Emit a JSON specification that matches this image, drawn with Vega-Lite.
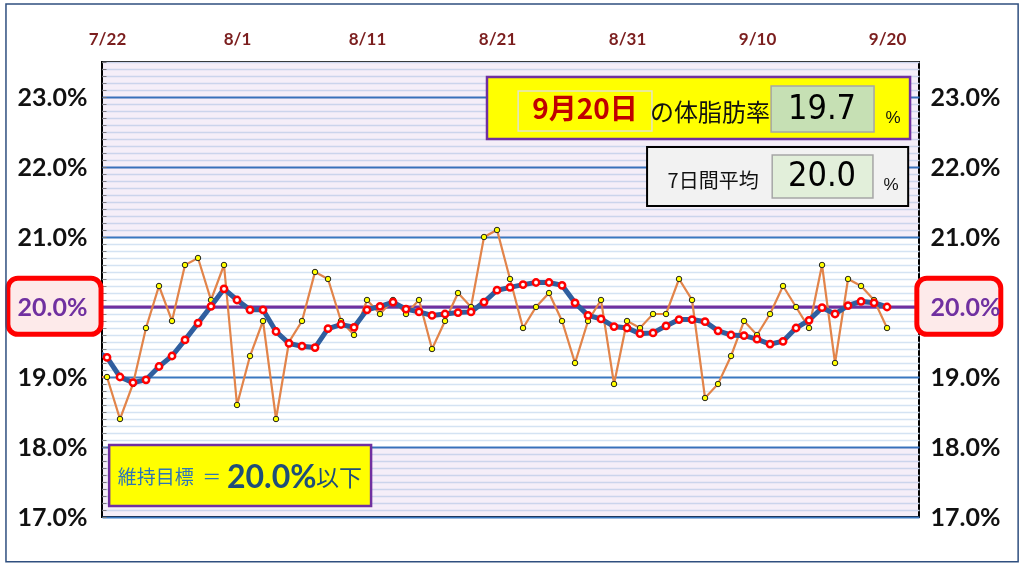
{
  "$schema": "https://vega.github.io/schema/vega-lite/v6.json",
  "description": "体脂肪率の推移 7/22-9/20 と7日間平均",
  "width": 817,
  "height": 455,
  "autosize": {"type": "none"},
  "padding": {"left": 102, "top": 62, "right": 105, "bottom": 52},
  "background": "#ffffff",
  "config": {
    "view": {"stroke": "#000000", "strokeWidth": 2, "fill": "#ffffff"},
    "axis": {"labelFont": "Lato", "labelFontWeight": "bold"}
  },
  "data": {
    "values": [
      {"date": "2023-07-21", "daily": 19.0, "avg": 19.38},
      {"date": "2023-07-22", "daily": 19.0, "avg": 19.28},
      {"date": "2023-07-23", "daily": 18.4, "avg": 19.0},
      {"date": "2023-07-24", "daily": 18.9, "avg": 18.92},
      {"date": "2023-07-25", "daily": 19.7, "avg": 18.96},
      {"date": "2023-07-26", "daily": 20.3, "avg": 19.15},
      {"date": "2023-07-27", "daily": 19.8, "avg": 19.30},
      {"date": "2023-07-28", "daily": 20.6, "avg": 19.53},
      {"date": "2023-07-29", "daily": 20.7, "avg": 19.77},
      {"date": "2023-07-30", "daily": 20.1, "avg": 20.01},
      {"date": "2023-07-31", "daily": 20.6, "avg": 20.26},
      {"date": "2023-08-01", "daily": 18.6, "avg": 20.10},
      {"date": "2023-08-02", "daily": 19.3, "avg": 19.96},
      {"date": "2023-08-03", "daily": 19.8, "avg": 19.96},
      {"date": "2023-08-04", "daily": 18.4, "avg": 19.65},
      {"date": "2023-08-05", "daily": 19.5, "avg": 19.48},
      {"date": "2023-08-06", "daily": 19.8, "avg": 19.44},
      {"date": "2023-08-07", "daily": 20.5, "avg": 19.42},
      {"date": "2023-08-08", "daily": 20.4, "avg": 19.69},
      {"date": "2023-08-09", "daily": 19.8, "avg": 19.75},
      {"date": "2023-08-10", "daily": 19.6, "avg": 19.71},
      {"date": "2023-08-11", "daily": 20.1, "avg": 19.96},
      {"date": "2023-08-12", "daily": 19.9, "avg": 20.01},
      {"date": "2023-08-13", "daily": 20.1, "avg": 20.07},
      {"date": "2023-08-14", "daily": 19.9, "avg": 19.97},
      {"date": "2023-08-15", "daily": 20.1, "avg": 19.93},
      {"date": "2023-08-16", "daily": 19.4, "avg": 19.88},
      {"date": "2023-08-17", "daily": 19.8, "avg": 19.90},
      {"date": "2023-08-18", "daily": 20.2, "avg": 19.92},
      {"date": "2023-08-19", "daily": 20.0, "avg": 19.93},
      {"date": "2023-08-20", "daily": 21.0, "avg": 20.07},
      {"date": "2023-08-21", "daily": 21.1, "avg": 20.24},
      {"date": "2023-08-22", "daily": 20.4, "avg": 20.28},
      {"date": "2023-08-23", "daily": 19.7, "avg": 20.32},
      {"date": "2023-08-24", "daily": 20.0, "avg": 20.35},
      {"date": "2023-08-25", "daily": 20.2, "avg": 20.35},
      {"date": "2023-08-26", "daily": 19.8, "avg": 20.31},
      {"date": "2023-08-27", "daily": 19.2, "avg": 20.06},
      {"date": "2023-08-28", "daily": 19.8, "avg": 19.88},
      {"date": "2023-08-29", "daily": 20.1, "avg": 19.83},
      {"date": "2023-08-30", "daily": 18.9, "avg": 19.72},
      {"date": "2023-08-31", "daily": 19.8, "avg": 19.70},
      {"date": "2023-09-01", "daily": 19.7, "avg": 19.62},
      {"date": "2023-09-02", "daily": 19.9, "avg": 19.63},
      {"date": "2023-09-03", "daily": 19.9, "avg": 19.73},
      {"date": "2023-09-04", "daily": 20.4, "avg": 19.82},
      {"date": "2023-09-05", "daily": 20.1, "avg": 19.82},
      {"date": "2023-09-06", "daily": 18.7, "avg": 19.79},
      {"date": "2023-09-07", "daily": 18.9, "avg": 19.66},
      {"date": "2023-09-08", "daily": 19.3, "avg": 19.60},
      {"date": "2023-09-09", "daily": 19.8, "avg": 19.59},
      {"date": "2023-09-10", "daily": 19.6, "avg": 19.54},
      {"date": "2023-09-11", "daily": 19.9, "avg": 19.47},
      {"date": "2023-09-12", "daily": 20.3, "avg": 19.51},
      {"date": "2023-09-13", "daily": 20.0, "avg": 19.70},
      {"date": "2023-09-14", "daily": 19.7, "avg": 19.81},
      {"date": "2023-09-15", "daily": 20.6, "avg": 19.99},
      {"date": "2023-09-16", "daily": 19.2, "avg": 19.90},
      {"date": "2023-09-17", "daily": 20.4, "avg": 20.02},
      {"date": "2023-09-18", "daily": 20.3, "avg": 20.08},
      {"date": "2023-09-19", "daily": 20.1, "avg": 20.06},
      {"date": "2023-09-20", "daily": 19.7, "avg": 20.00}
    ]
  },
  "resolve": {"axis": {"y": "independent"}},
  "layer": [
    {
      "data": {"values": [{}]},
      "layer": [
        {
          "mark": {"type": "rect", "fill": "#f5eef8", "blend": "multiply"},
          "encoding": {
            "y": {
              "datum": 21,
              "type": "quantitative",
              "scale": {"domain": [17, 23.5], "nice": false, "zero": false},
              "axis": {
                "orient": "left",
                "title": null,
                "labels": false,
                "domain": false,
                "ticks": true,
                "tickSize": -4,
                "tickColor": "#808080",
                "tickCount": 65,
                "grid": true,
                "gridColor": {
                  "condition": {"test": "abs(datum.value - round(datum.value)) < 0.001", "value": "#3a78c0"},
                  "value": "#d4e3f3"
                },
                "gridWidth": {
                  "condition": {"test": "abs(datum.value - round(datum.value)) < 0.001", "value": 1.8},
                  "value": 1.5
                }
              }
            },
            "y2": {"datum": 23.5}
          }
        },
        {
          "mark": {"type": "rect", "fill": "#f5eef8", "blend": "multiply"},
          "encoding": {
            "y": {"datum": 17, "type": "quantitative"},
            "y2": {"datum": 18}
          }
        },
        {
          "mark": {"type": "rule", "color": "#7030a0", "strokeWidth": 3},
          "encoding": {"y": {"datum": 20, "type": "quantitative"}}
        }
      ]
    },
    {
      "encoding": {
        "x": {
          "field": "date",
          "type": "temporal",
          "scale": {
            "type": "utc",
            "domain": [
              {"year": 2023, "month": 7, "date": 21, "hours": 14, "minutes": 46, "utc": true},
              {"year": 2023, "month": 9, "date": 22, "hours": 11, "utc": true}
            ]
          },
          "axis": {
            "orient": "top",
            "title": null,
            "labelExpr": "utcFormat(datum.value, '%-m/%-d')",
            "values": [
              {"year": 2023, "month": 7, "date": 22, "utc": true},
              {"year": 2023, "month": 8, "date": 1, "utc": true},
              {"year": 2023, "month": 8, "date": 11, "utc": true},
              {"year": 2023, "month": 8, "date": 21, "utc": true},
              {"year": 2023, "month": 8, "date": 31, "utc": true},
              {"year": 2023, "month": 9, "date": 10, "utc": true},
              {"year": 2023, "month": 9, "date": 20, "utc": true}
            ],
            "grid": false,
            "ticks": false,
            "domain": false,
            "labelPadding": 14,
            "labelFontSize": 17,
            "labelColor": "#7b1e1e"
          }
        }
      },
      "layer": [
        {
          "mark": {"type": "line", "color": "#e2844a", "strokeWidth": 2.2, "clip": true},
          "encoding": {
            "y": {
              "field": "daily",
              "type": "quantitative",
              "title": null,
              "scale": {"domain": [17, 23.5], "nice": false, "zero": false},
              "axis": {
                "orient": "left",
                "title": null,
                "values": [17, 18, 19, 20, 21, 22, 23],
                "labelExpr": "format(datum.value, '.1f') + '%'",
                "grid": false,
                "ticks": false,
                "domain": false,
                "zindex": 1,
                "labelPadding": 15,
                "labelFontSize": 25,
                "labelColor": {"condition": {"test": "datum.value == 20", "value": "#7030a0"}, "value": "#111111"}
              }
            }
          }
        },
        {
          "mark": {"type": "point", "shape": "circle", "filled": true, "fill": "#ffff00", "stroke": "#222222", "strokeWidth": 1, "size": 30, "opacity": 1, "clip": true},
          "encoding": {"y": {"field": "daily", "type": "quantitative", "title": null}}
        },
        {
          "mark": {"type": "line", "color": "#2f5e9f", "strokeWidth": 5, "clip": true},
          "encoding": {"y": {"field": "avg", "type": "quantitative", "title": null}}
        },
        {
          "mark": {"type": "point", "shape": "circle", "filled": true, "fill": "#ffffff", "stroke": "#ff0000", "strokeWidth": 2.5, "size": 40, "opacity": 1, "clip": true},
          "encoding": {"y": {"field": "avg", "type": "quantitative", "title": null}}
        }
      ]
    },
    {
      "data": {"values": [{}]},
      "layer": [
        {
          "mark": {"type": "rect", "fill": "#fdeaea", "stroke": "#ff0000", "strokeWidth": 5, "cornerRadius": 10, "clip": false},
          "encoding": {
            "x": {"datum": {"year": 2023, "month": 7, "date": 14, "hours": 9, "utc": true}, "type": "temporal"},
            "x2": {"datum": {"year": 2023, "month": 7, "date": 21, "hours": 13, "utc": true}},
            "y": {
              "datum": 20.41,
              "type": "quantitative",
              "axis": {
                "orient": "right",
                "title": null,
                "values": [17, 18, 19, 20, 21, 22, 23],
                "labelExpr": "format(datum.value, '.1f') + '%'",
                "grid": false,
                "ticks": false,
                "domain": false,
                "zindex": 1,
                "labelPadding": 11,
                "labelFontSize": 25,
                "labelColor": {"condition": {"test": "datum.value == 20", "value": "#7030a0"}, "value": "#111111"}
              }
            },
            "y2": {"datum": 19.61}
          }
        },
        {
          "mark": {"type": "rect", "fill": "#fdeaea", "stroke": "#ff0000", "strokeWidth": 5, "cornerRadius": 10, "clip": false},
          "encoding": {
            "x": {"datum": {"year": 2023, "month": 9, "date": 22, "hours": 7, "utc": true}, "type": "temporal"},
            "x2": {"datum": {"year": 2023, "month": 9, "date": 28, "hours": 18, "utc": true}},
            "y": {"datum": 20.41, "type": "quantitative"},
            "y2": {"datum": 19.61}
          }
        },
        {
          "mark": {"type": "rect", "fill": null, "fillOpacity": 0, "stroke": "#2f4f7f", "strokeWidth": 1.5, "clip": false},
          "encoding": {
            "x": {"datum": {"year": 2023, "month": 7, "date": 14, "hours": 5, "minutes": 30, "utc": true}, "type": "temporal"},
            "x2": {"datum": {"year": 2023, "month": 9, "date": 30, "hours": 2, "utc": true}},
            "y": {"datum": 24.33, "type": "quantitative"},
            "y2": {"datum": 16.36}
          }
        },
        {
          "mark": {"type": "rect", "fill": "#ffff00", "stroke": "#7030a0", "strokeWidth": 2.5},
          "encoding": {
            "x": {"datum": {"year": 2023, "month": 8, "date": 20, "hours": 5, "minutes": 30, "utc": true}, "type": "temporal"},
            "x2": {"datum": {"year": 2023, "month": 9, "date": 21, "hours": 18, "minutes": 30, "utc": true}},
            "y": {"datum": 23.286, "type": "quantitative"},
            "y2": {"datum": 22.4}
          }
        },
        {
          "mark": {"type": "rect", "fill": "#ffff00", "stroke": "#e3e3c8", "strokeWidth": 1.5},
          "encoding": {
            "x": {"datum": {"year": 2023, "month": 8, "date": 22, "hours": 15, "utc": true}, "type": "temporal"},
            "x2": {"datum": {"year": 2023, "month": 9, "date": 1, "hours": 22, "utc": true}},
            "y": {"datum": 23.086, "type": "quantitative"},
            "y2": {"datum": 22.514}
          }
        },
        {
          "mark": {"type": "text", "text": "9月20日", "font": "Noto Sans CJK JP", "fontWeight": "bold", "fontSize": 28, "color": "#c00000", "align": "center", "baseline": "middle"},
          "encoding": {
            "x": {"datum": {"year": 2023, "month": 8, "date": 27, "hours": 18, "minutes": 30, "utc": true}, "type": "temporal"},
            "y": {"datum": 22.8, "type": "quantitative"}
          }
        },
        {
          "mark": {"type": "text", "text": "の体脂肪率", "font": "Noto Sans CJK JP", "fontSize": 24, "color": "#111111", "align": "center", "baseline": "middle"},
          "encoding": {
            "x": {"datum": {"year": 2023, "month": 9, "date": 6, "hours": 9, "utc": true}, "type": "temporal"},
            "y": {"datum": 22.757, "type": "quantitative"}
          }
        },
        {
          "mark": {"type": "rect", "fill": "#c6e0b4", "stroke": "#a6a6a6", "strokeWidth": 1.5},
          "encoding": {
            "x": {"datum": {"year": 2023, "month": 9, "date": 11, "hours": 2, "utc": true}, "type": "temporal"},
            "x2": {"datum": {"year": 2023, "month": 9, "date": 19, "utc": true}},
            "y": {"datum": 23.157, "type": "quantitative"},
            "y2": {"datum": 22.5}
          }
        },
        {
          "mark": {"type": "text", "text": "19.7", "font": "'DejaVu Sans Condensed', Roboto, sans-serif", "fontSize": 34, "color": "#000000", "align": "center", "baseline": "middle"},
          "encoding": {
            "x": {"datum": {"year": 2023, "month": 9, "date": 15, "utc": true}, "type": "temporal"},
            "y": {"datum": 22.829, "type": "quantitative"}
          }
        },
        {
          "mark": {"type": "text", "text": "%", "font": "Liberation Sans", "fontSize": 17, "color": "#111111", "align": "center", "baseline": "middle"},
          "encoding": {
            "x": {"datum": {"year": 2023, "month": 9, "date": 20, "hours": 11, "utc": true}, "type": "temporal"},
            "y": {"datum": 22.7, "type": "quantitative"}
          }
        },
        {
          "mark": {"type": "rect", "fill": "#f2f2f2", "stroke": "#000000", "strokeWidth": 2},
          "encoding": {
            "x": {"datum": {"year": 2023, "month": 9, "date": 1, "hours": 13, "utc": true}, "type": "temporal"},
            "x2": {"datum": {"year": 2023, "month": 9, "date": 21, "hours": 15, "utc": true}},
            "y": {"datum": 22.286, "type": "quantitative"},
            "y2": {"datum": 21.443}
          }
        },
        {
          "mark": {"type": "text", "text": "7日間平均", "font": "Noto Sans CJK JP", "fontSize": 20, "color": "#111111", "align": "center", "baseline": "middle"},
          "encoding": {
            "x": {"datum": {"year": 2023, "month": 9, "date": 6, "hours": 15, "utc": true}, "type": "temporal"},
            "y": {"datum": 21.786, "type": "quantitative"}
          }
        },
        {
          "mark": {"type": "rect", "fill": "#e2efda", "stroke": "#a6a6a6", "strokeWidth": 1.5},
          "encoding": {
            "x": {"datum": {"year": 2023, "month": 9, "date": 11, "hours": 4, "utc": true}, "type": "temporal"},
            "x2": {"datum": {"year": 2023, "month": 9, "date": 18, "hours": 22, "utc": true}},
            "y": {"datum": 22.171, "type": "quantitative"},
            "y2": {"datum": 21.557}
          }
        },
        {
          "mark": {"type": "text", "text": "20.0", "font": "'DejaVu Sans Condensed', Roboto, sans-serif", "fontSize": 34, "color": "#000000", "align": "center", "baseline": "middle"},
          "encoding": {
            "x": {"datum": {"year": 2023, "month": 9, "date": 15, "utc": true}, "type": "temporal"},
            "y": {"datum": 21.871, "type": "quantitative"}
          }
        },
        {
          "mark": {"type": "text", "text": "%", "font": "Liberation Sans", "fontSize": 17, "color": "#111111", "align": "center", "baseline": "middle"},
          "encoding": {
            "x": {"datum": {"year": 2023, "month": 9, "date": 20, "hours": 7, "minutes": 30, "utc": true}, "type": "temporal"},
            "y": {"datum": 21.743, "type": "quantitative"}
          }
        },
        {
          "mark": {"type": "rect", "fill": "#ffff00", "stroke": "#7030a0", "strokeWidth": 2.5},
          "encoding": {
            "x": {"datum": {"year": 2023, "month": 7, "date": 22, "hours": 4, "utc": true}, "type": "temporal"},
            "x2": {"datum": {"year": 2023, "month": 8, "date": 11, "hours": 7, "minutes": 30, "utc": true}},
            "y": {"datum": 18.029, "type": "quantitative"},
            "y2": {"datum": 17.157}
          }
        },
        {
          "mark": {"type": "text", "text": "維持目標\u00a0\u00a0＝", "font": "Noto Sans CJK JP", "fontSize": 19, "color": "#2e75b6", "align": "left", "baseline": "middle"},
          "encoding": {
            "x": {"datum": {"year": 2023, "month": 7, "date": 22, "hours": 20, "utc": true}, "type": "temporal"},
            "y": {"datum": 17.557, "type": "quantitative"}
          }
        },
        {
          "mark": {"type": "text", "text": "20.0%", "font": "Lato", "fontWeight": "bold", "fontSize": 32, "color": "#1f4e79", "align": "left", "baseline": "middle"},
          "encoding": {
            "x": {"datum": {"year": 2023, "month": 7, "date": 31, "hours": 5, "minutes": 30, "utc": true}, "type": "temporal"},
            "y": {"datum": 17.557, "type": "quantitative"}
          }
        },
        {
          "mark": {"type": "text", "text": "以下", "font": "Noto Sans CJK JP", "fontSize": 23, "color": "#1f4e79", "align": "left", "baseline": "middle"},
          "encoding": {
            "x": {"datum": {"year": 2023, "month": 8, "date": 7, "hours": 2, "utc": true}, "type": "temporal"},
            "y": {"datum": 17.54, "type": "quantitative"}
          }
        }
      ]
    }
  ]
}
